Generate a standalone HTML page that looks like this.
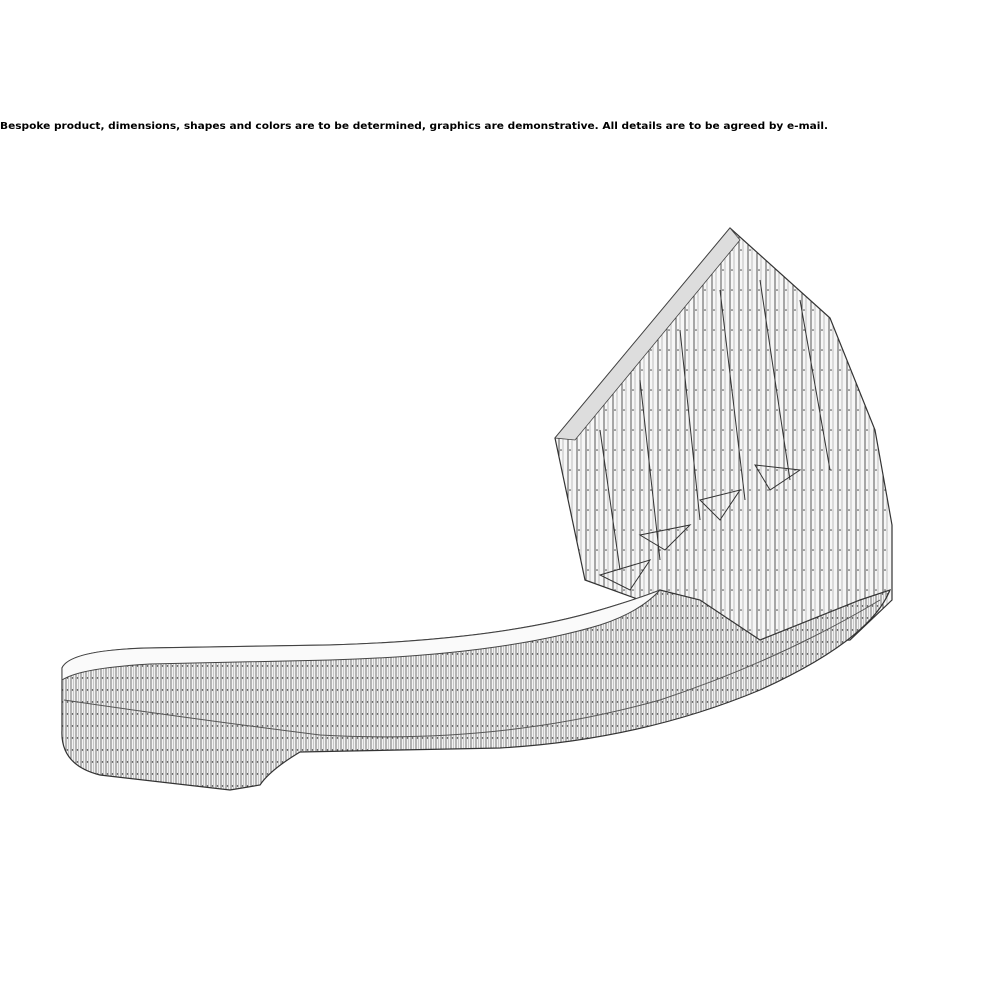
<!DOCTYPE html>
<html><head><meta charset="utf-8"><style>
html,body{margin:0;padding:0;background:#fff;width:1000px;height:1000px;overflow:hidden}
</style></head><body>
<svg width="1000" height="1000" viewBox="0 0 1000 1000" xmlns="http://www.w3.org/2000/svg">
<defs>
<pattern id="v" width="5" height="12" patternUnits="userSpaceOnUse">
<rect width="5" height="12" fill="#f2f2f2"/>
<line x1="1" y1="0" x2="1" y2="12" stroke="#555" stroke-width="0.8"/>
<line x1="3.5" y1="0" x2="3.5" y2="12" stroke="#aaa" stroke-width="0.6"/>
<circle cx="2.5" cy="6" r="0.7" fill="#333"/>
</pattern>
<pattern id="v2" width="9" height="20" patternUnits="userSpaceOnUse">
<rect width="9" height="20" fill="#f6f6f6"/>
<line x1="1" y1="0" x2="1" y2="20" stroke="#444" stroke-width="0.9"/>
<line x1="5" y1="0" x2="5" y2="20" stroke="#999" stroke-width="0.6"/>
<circle cx="3" cy="10" r="0.8" fill="#444"/>
</pattern>
</defs>
<text x="0" y="129" font-family="'DejaVu Sans','Liberation Sans',sans-serif" font-weight="bold" font-size="9.5" textLength="828" lengthAdjust="spacingAndGlyphs" fill="#000">Bespoke product, dimensions, shapes and colors are to be determined, graphics are demonstrative. All details are to be agreed by e-mail.</text>

<!-- upright block -->
<path d="M555,438 L730,228 L830,318 L875,430 L892,525 L892,600 L850,640 L700,645 L640,600 L585,580 Z" fill="url(#v2)" stroke="#333" stroke-width="1.2"/>
<path d="M555,438 L730,228 L740,240 L575,440 Z" fill="#ddd" stroke="#444" stroke-width="0.8"/>
<g stroke="#333" stroke-width="1" fill="none">
<path d="M600,430 L620,570"/><path d="M640,380 L660,560"/><path d="M680,330 L700,520"/><path d="M720,290 L745,500"/><path d="M760,280 L790,480"/><path d="M800,300 L830,470"/>
<path d="M700,500 L740,490 L720,520 Z"/><path d="M755,465 L800,470 L770,490 Z"/><path d="M600,575 L650,560 L630,590 Z"/><path d="M640,535 L690,525 L665,550 Z"/>
</g>

<!-- curved band -->
<path d="M62,668 Q70,650 150,648 L330,645 Q500,640 600,610 Q650,595 660,590 L700,600 L760,640 L860,600 L890,590 Q870,640 760,690 Q640,740 500,748 L300,752 Q270,770 260,785 L230,790 L100,775 Q60,765 62,730 Z" fill="url(#v)" stroke="#333" stroke-width="1.2"/>
<path d="M62,668 Q70,650 150,648 L330,645 Q500,640 600,610 Q640,598 660,590 Q640,612 600,625 Q500,655 330,660 L150,664 Q80,668 62,680 Z" fill="#fafafa" stroke="#444" stroke-width="1"/>
<path d="M64,700 Q200,720 320,735 Q500,745 660,700 Q780,660 880,600" fill="none" stroke="#555" stroke-width="1"/>
</svg>
</body></html>
